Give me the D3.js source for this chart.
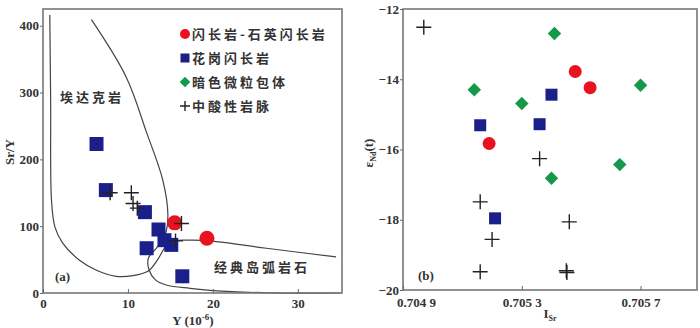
<!DOCTYPE html>
<html>
<head>
<meta charset="utf-8">
<script src="https://cdn.jsdelivr.net/npm/d3@7"></script>
<style>
  body { margin: 0; background: #fff; }
  svg { display: block; }
  .tick text { font-family: "Liberation Serif", serif; font-weight: bold; font-size: 13px; fill: #333; }
  .cn { font-family: "Noto Sans CJK SC", sans-serif; font-weight: bold; font-size: 13px; fill: #333; letter-spacing: 3px; }
  .lab { font-family: "Liberation Serif", serif; font-weight: bold; font-size: 13px; fill: #333; }
</style>
</head>
<body>
<div id="chart"></div>
<script>
// ---- data ----
const legendNames = ["闪长岩-石英闪长岩", "花岗闪长岩", "暗色微粒包体", "中酸性岩脉"];

// (a) Sr/Y vs Y
const aRed = [[15.5, 105], [19.3, 82]];
const aBlue = [[6.3, 223], [7.4, 154], [12.0, 121], [13.6, 95], [14.3, 79], [15.1, 72], [12.2, 67], [16.4, 25]];
const aCross = [[7.9, 150], [10.4, 150], [10.6, 134], [11.1, 127], [16.3, 104], [15.6, 78]];
const aTicksX = [0, 10, 20, 30];
const aTicksY = [0, 100, 200, 300, 400];

// field boundaries (data coords)
const arcBoundary = [[0.8, 416], [0.9, 289], [1.0, 139], [1.4, 99], [2.3, 75], [4.3, 49], [6.3, 34], [8.6, 25],
  [10.6, 26], [12.4, 33], [13.5, 50], [14.3, 67], [15.0, 77], [17.5, 79], [20.4, 77], [26.3, 67], [34.5, 54]];
const adakiteBoundary = [[5.7, 409], [9.8, 323], [12.2, 240], [14.1, 169], [14.7, 118], [14.4, 88], [13.4, 68],
  [12.4, 52], [12.5, 34], [13.2, 20], [14.5, 12], [17.3, 7], [22.3, 2], [27, 0.3], [35, 0]];

// (b) eNd(t) vs ISr
const bRed = [[0.70548, -13.78], [0.70553, -14.24], [0.70519, -15.83]];
const bBlue = [[0.70540, -14.44], [0.70516, -15.31], [0.70536, -15.28], [0.70521, -17.96]];
const bGreen = [[0.70541, -12.70], [0.70514, -14.30], [0.70530, -14.69], [0.70570, -14.17], [0.70563, -16.43], [0.70540, -16.82]];
const bCross = [[0.70497, -12.52], [0.70536, -16.26], [0.70516, -17.49], [0.70520, -18.56], [0.70546, -18.06],
  [0.70516, -19.48], [0.70545, -19.45], [0.705452, -19.50]];
const bTicksX = [0.7049, 0.7053, 0.7057];
const bTickLabelsX = ["0.704 9", "0.705 3", "0.705 7"];
const bTicksY = [-12, -14, -16, -18, -20];

const colors = { red: "#e8131f", blue: "#1b1f8a", green: "#14994a", cross: "#222" };

// thin plus symbol for strokes
const plus = {
  draw(ctx, size) {
    const r = Math.sqrt(size) / 2;
    ctx.moveTo(-r, 0); ctx.lineTo(r, 0);
    ctx.moveTo(0, -r); ctx.lineTo(0, r);
  }
};

const svg = d3.select('#chart').append('svg')
  .attr('width', 700)
  .attr('height', 328);

function drawMarkers(g, data, x, y, kind, s) {
  const sym = d3.symbol();
  if (kind === 'circle') sym.type(d3.symbolCircle).size(Math.PI * s * s / 4);
  if (kind === 'square' || kind === 'diamond') sym.type(d3.symbolSquare).size(s * s);
  if (kind === 'cross') sym.type(plus).size(s * s);
  const fill = { circle: colors.red, square: colors.blue, diamond: colors.green, cross: 'none' }[kind];
  g.selectAll(null)
    .data(data)
    .enter().append('path')
    .attr('d', sym)
    .attr('transform', d => `translate(${x(d[0])},${y(d[1])})` + (kind === 'diamond' ? ' rotate(45)' : ''))
    .style('fill', fill)
    .style('stroke', kind === 'cross' ? colors.cross : 'none')
    .style('stroke-width', 1.4);
}

function frame(g, x, y) {
  const [x0, x1] = x.range();
  const [y0, y1] = y.range();
  g.append('rect')
    .attr('x', x0).attr('y', y1)
    .attr('width', x1 - x0).attr('height', y0 - y1)
    .style('fill', 'none').style('stroke', '#777').style('stroke-width', 1.6);
}

// ---- panel (a) ----
{
  const x = d3.scaleLinear().domain([0, 35.2]).range([43, 342]);
  const y = d3.scaleLinear().domain([0, 425]).range([293, 9]);
  const g = svg.append('g');

  const line = d3.line().x(d => x(d[0])).y(d => y(d[1])).curve(d3.curveCatmullRom);
  [arcBoundary, adakiteBoundary].forEach(b => {
    g.append('path').attr('d', line(b))
      .style('fill', 'none').style('stroke', '#444').style('stroke-width', 1.2);
  });

  frame(g, x, y);

  g.append('g')
    .attr('transform', 'translate(0,293)')
    .call(d3.axisBottom(x).tickValues(aTicksX).tickSizeInner(-4).tickSizeOuter(0).tickPadding(6))
    .call(a => a.select('.domain').remove())
    .call(a => a.selectAll('line').style('stroke', '#666'));

  g.append('g')
    .attr('transform', 'translate(43,0)')
    .call(d3.axisLeft(y).tickValues(aTicksY).tickSizeInner(3).tickSizeOuter(0).tickPadding(1))
    .call(a => a.select('.domain').remove())
    .call(a => a.selectAll('line').style('stroke', '#666'));

  drawMarkers(g, aBlue, x, y, 'square', 14);
  drawMarkers(g, aRed, x, y, 'circle', 15);
  drawMarkers(g, aCross, x, y, 'cross', 15);

  g.append('text').attr('class', 'cn').attr('x', 60).attr('y', 102).text('埃达克岩');
  g.append('text').attr('class', 'cn').attr('x', 214).attr('y', 272).text('经典岛弧岩石');
  g.append('text').attr('class', 'lab').attr('x', 55).attr('y', 281).text('(a)');

  g.append('text').attr('class', 'lab')
    .attr('transform', 'translate(14,152) rotate(-90)')
    .attr('text-anchor', 'middle').text('Sr/Y');
  const xl = g.append('text').attr('class', 'lab').attr('x', 193).attr('y', 325).attr('text-anchor', 'middle');
  xl.append('tspan').text('Y (10');
  xl.append('tspan').attr('dy', -5).style('font-size', '9px').text('-6');
  xl.append('tspan').attr('dy', 5).text(')');

  // legend
  const lg = g.append('g');
  const kinds = ['circle', 'square', 'diamond', 'cross'];
  const ly = d3.scalePoint().domain(legendNames).range([34, 106]);
  legendNames.forEach((name, i) => {
    const sz = { circle: 10, square: 9, diamond: 7.5, cross: 10 }[kinds[i]];
    drawMarkers(lg, [[name]], () => 185, () => ly(name), kinds[i], sz);
    lg.append('text').attr('class', 'cn')
      .attr('x', 192).attr('y', ly(name) + 5).text(name);
  });
}

// ---- panel (b) ----
{
  const x = d3.scaleLinear().domain([0.7049, 0.70589]).range([403, 697]);
  const y = d3.scaleLinear().domain([-20, -12]).range([290, 9]);
  const g = svg.append('g');

  frame(g, x, y);

  g.append('g')
    .attr('transform', 'translate(0,290)')
    .call(d3.axisBottom(x).tickValues(bTicksX).tickFormat((d, i) => bTickLabelsX[i])
      .tickSizeInner(-4).tickSizeOuter(0).tickPadding(8))
    .call(a => a.select('.domain').remove())
    .call(a => a.selectAll('line').style('stroke', '#666'))
    // first label sits to the right of its tick, clear of "-20"
    .call(a => a.selectAll('text').filter((d, i) => i === 0).attr('dx', 13));

  g.append('g')
    .attr('transform', 'translate(403,0)')
    .call(d3.axisLeft(y).tickValues(bTicksY).tickSizeInner(3).tickSizeOuter(0).tickPadding(1))
    .call(a => a.select('.domain').remove())
    .call(a => a.selectAll('line').style('stroke', '#666'));

  drawMarkers(g, bGreen, x, y, 'diamond', 9.5);
  drawMarkers(g, bBlue, x, y, 'square', 12);
  drawMarkers(g, bRed, x, y, 'circle', 13);
  drawMarkers(g, bCross, x, y, 'cross', 15);

  g.append('text').attr('class', 'lab').attr('x', 418).attr('y', 280).text('(b)');

  const yl = g.append('text').attr('class', 'lab')
    .attr('transform', 'translate(373,153) rotate(-90)')
    .attr('text-anchor', 'middle');
  yl.append('tspan').text('ε');
  yl.append('tspan').attr('dy', 3).style('font-size', '8px').text('Nd');
  yl.append('tspan').attr('dy', -3).text('(t)');

  const xl = g.append('text').attr('class', 'lab').attr('x', 550).attr('y', 318).attr('text-anchor', 'middle');
  xl.append('tspan').text('I');
  xl.append('tspan').attr('dy', 3).style('font-size', '8px').text('Sr');
}
</script>
</body>
</html>
